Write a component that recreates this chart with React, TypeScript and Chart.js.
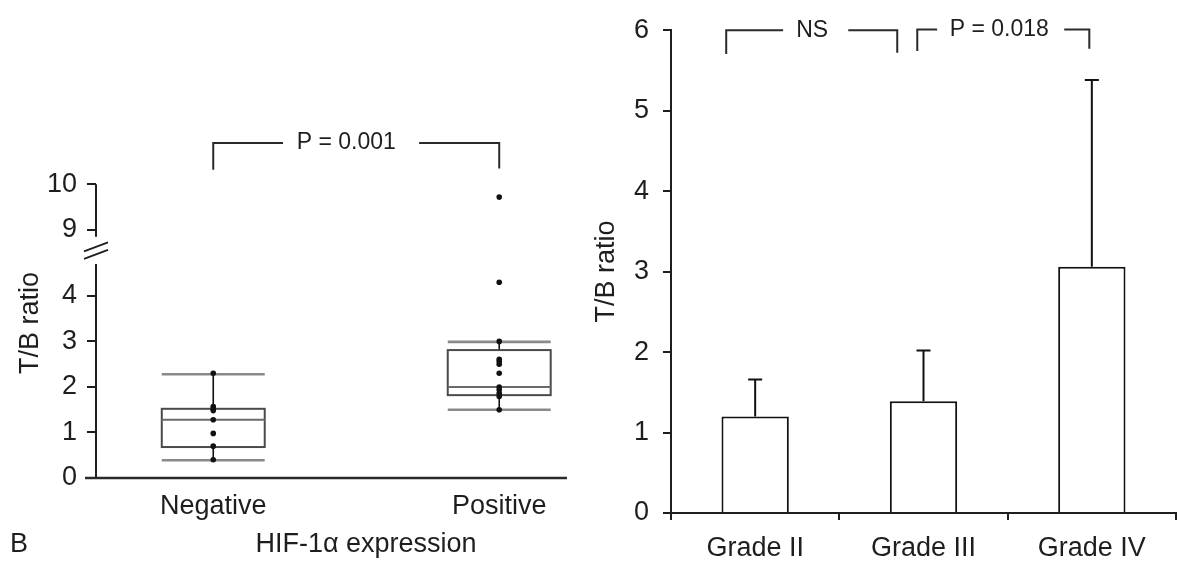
import React, { useEffect, useRef } from 'react';
import { Chart, registerables } from 'chart.js';

Chart.register(...registerables);

const FONT = '"Liberation Sans", Arial, Helvetica, sans-serif';
const INK = '#1e1e1e';

// ---------- Left panel: box plot (HIF-1α expression) ----------
const hifCategories = ['Negative', 'Positive'];
// [lower whisker, Q1, median, Q3, upper whisker]
const negativeBox = [0.39, 0.68, 1.28, 1.52, 2.28];
const positiveBox = [1.5, 1.82, 2.0, 2.81, 2.99];
const negativePoints = [2.3, 1.57, 1.52, 1.48, 1.28, 0.98, 0.7, 0.4];
const positivePoints = [9.72, 4.3, 3.0, 2.61, 2.56, 2.5, 2.3, 2.0, 1.94, 1.86, 1.79, 1.5];
const leftTickValues = [0, 1, 2, 3, 4, 9, 10];
const leftPLabel = 'P = 0.001';
const leftYTitle = 'T/B ratio';
const leftXTitle = 'HIF-1α expression';
const panelLetter = 'B';

// ---------- Right panel: bar chart by grade ----------
const gradeCategories = ['Grade II', 'Grade III', 'Grade IV'];
const gradeMeans = [1.2, 1.39, 3.06];
const gradeUpper = [1.66, 2.02, 5.38];
const rightYTitle = 'T/B ratio';
const rightBracketLabels = ['NS', 'P = 0.018'];

// broken axis: values between BREAK_FROM and BREAK_TO are cut out
const BREAK_FROM = 4.7;
const BREAK_TO = 8.85;
const BREAK_GAP = 0.6;
const toDisplay = (v: number) =>
  v <= BREAK_FROM ? v : v - (BREAK_TO - BREAK_FROM - BREAK_GAP);

// bracket geometry (annotation layout)
const leftBracket = { from: 1, to: 2, top: 7.36, leftFoot: 6.77, rightFoot: 6.8, gapFrom: 1.244, gapTo: 1.72, textAt: 1.465 };
const rightBrackets = [
  { from: -0.172, to: 0.844, top: 6.0, leftFoot: 5.705, rightFoot: 5.72, gapFrom: 0.166, gapTo: 0.553, textAt: 0.339 },
  { from: 0.963, to: 1.985, top: 6.01, leftFoot: 5.74, rightFoot: 5.77, gapFrom: 1.081, gapTo: 1.836, textAt: 1.45 },
];

const font = (size: number) => ({ family: FONT, size });

function drawBracket(ctx: CanvasRenderingContext2D, xs: (v: number) => number, ys: (v: number) => number, b: any, label: string) {
  const xl = xs(b.from), xr = xs(b.to), yt = ys(b.top);
  ctx.save();
  ctx.strokeStyle = '#2a2a2a';
  ctx.lineWidth = 2;
  ctx.beginPath();
  ctx.moveTo(xl, ys(b.leftFoot));
  ctx.lineTo(xl, yt);
  ctx.lineTo(xs(b.gapFrom), yt);
  ctx.moveTo(xs(b.gapTo), yt);
  ctx.lineTo(xr, yt);
  ctx.lineTo(xr, ys(b.rightFoot));
  ctx.stroke();
  ctx.fillStyle = INK;
  ctx.font = `23px ${FONT}`;
  ctx.textAlign = 'center';
  ctx.textBaseline = 'middle';
  ctx.fillText(label, xs(b.textAt), yt);
  ctx.restore();
}

const leftDecor = {
  id: 'leftDecor',
  beforeDatasetsDraw(chart: any) {
    const { ctx, chartArea } = chart;
    const xs = (v: number) => chart.scales.x.getPixelForValue(v);
    const ys = (v: number) => chart.scales.y.getPixelForValue(v);
    const ax = chartArea.left;
    ctx.save();
    // broken y axis
    ctx.strokeStyle = INK;
    ctx.lineWidth = 2;
    ctx.beginPath();
    ctx.moveTo(ax, ys(0));
    ctx.lineTo(ax, ys(toDisplay(BREAK_FROM)));
    ctx.moveTo(ax, ys(toDisplay(BREAK_TO)));
    ctx.lineTo(ax, ys(toDisplay(10)));
    ctx.stroke();
    // break marks
    const yc = ys((toDisplay(BREAK_FROM) + toDisplay(BREAK_TO)) / 2);
    ctx.lineWidth = 1.8;
    ctx.beginPath();
    for (const c of [yc - 3.5, yc + 4]) {
      ctx.moveTo(ax - 12, c + 4.5);
      ctx.lineTo(ax + 12, c - 4.5);
    }
    ctx.stroke();
    // x axis line
    ctx.lineWidth = 2.6;
    ctx.strokeStyle = '#2a2a2a';
    ctx.beginPath();
    ctx.moveTo(ax - 11, chartArea.bottom);
    ctx.lineTo(chartArea.right, chartArea.bottom);
    ctx.stroke();
    // boxes
    const boxes = [negativeBox, positiveBox];
    const half = 0.18;
    boxes.forEach((s, i) => {
      const xc = xs(i + 1), x0 = xs(i + 1 - half), x1 = xs(i + 1 + half);
      const [lo, q1, med, q3, hi] = s.map((v) => ys(toDisplay(v)));
      ctx.strokeStyle = '#111';
      ctx.lineWidth = 1.6;
      ctx.beginPath();
      ctx.moveTo(xc, hi); ctx.lineTo(xc, q3);
      ctx.moveTo(xc, q1); ctx.lineTo(xc, lo);
      ctx.stroke();
      ctx.strokeStyle = '#8a8a8a';
      ctx.lineWidth = 2.6;
      ctx.beginPath();
      ctx.moveTo(x0, lo); ctx.lineTo(x1, lo);
      ctx.moveTo(x0, hi); ctx.lineTo(x1, hi);
      ctx.stroke();
      ctx.strokeStyle = '#4a4a4a';
      ctx.lineWidth = 2;
      ctx.strokeRect(x0, q3, x1 - x0, q1 - q3);
      ctx.strokeStyle = '#6a6a6a';
      ctx.beginPath();
      ctx.moveTo(x0, med); ctx.lineTo(x1, med);
      ctx.stroke();
    });
    ctx.restore();
  },
  afterDraw(chart: any) {
    const { ctx } = chart;
    const xs = (v: number) => chart.scales.x.getPixelForValue(v);
    const ys = (v: number) => chart.scales.y.getPixelForValue(v);
    drawBracket(ctx, xs, ys, leftBracket, leftPLabel);
    ctx.save();
    ctx.fillStyle = INK;
    ctx.font = `27px ${FONT}`;
    ctx.textBaseline = 'middle';
    ctx.textAlign = 'left';
    ctx.fillText(panelLetter, 10, 545);
    ctx.textAlign = 'center';
    ctx.fillText(leftXTitle, 366, 545);
    ctx.translate(31, 323);
    ctx.rotate(-Math.PI / 2);
    ctx.fillText(leftYTitle, 0, 0);
    ctx.restore();
  },
};

const errorBars = {
  id: 'errorBars',
  afterDatasetsDraw(chart: any) {
    const { ctx } = chart;
    const meta = chart.getDatasetMeta(0);
    const ys = (v: number) => chart.scales.y.getPixelForValue(v);
    ctx.save();
    ctx.strokeStyle = '#111';
    ctx.lineWidth = 2;
    meta.data.forEach((bar: any, i: number) => {
      const x = bar.x;
      const yTop = ys(gradeUpper[i]);
      ctx.beginPath();
      ctx.moveTo(x, ys(gradeMeans[i]));
      ctx.lineTo(x, yTop);
      ctx.moveTo(x - 7, yTop);
      ctx.lineTo(x + 7, yTop);
      ctx.stroke();
    });
    ctx.restore();
  },
  afterDraw(chart: any) {
    const xs = (v: number) => chart.scales.x.getPixelForValue(v);
    const ys = (v: number) => chart.scales.y.getPixelForValue(v);
    rightBrackets.forEach((b, i) => drawBracket(chart.ctx, xs, ys, b, rightBracketLabels[i]));
  },
};

export default function App() {
  const leftRef = useRef<HTMLCanvasElement>(null);
  const rightRef = useRef<HTMLCanvasElement>(null);

  useEffect(() => {
    const left = new Chart(leftRef.current as HTMLCanvasElement, {
      type: 'scatter',
      data: {
        datasets: [
          { data: negativePoints.map((v) => ({ x: 1, y: toDisplay(v) })), pointRadius: 2.8, pointBackgroundColor: '#111', pointBorderWidth: 0 },
          { data: positivePoints.map((v) => ({ x: 2, y: toDisplay(v) })), pointRadius: 2.8, pointBackgroundColor: '#111', pointBorderWidth: 0 },
        ],
      },
      options: {
        responsive: false,
        animation: false,
        layout: { padding: { left: 0, top: 132, right: 23, bottom: 0 } },
        plugins: { legend: { display: false }, tooltip: { enabled: false } },
        scales: {
          x: {
            type: 'linear',
            min: 0.59,
            max: 2.237,
            afterBuildTicks: (s: any) => { s.ticks = hifCategories.map((_, i) => ({ value: i + 1 })); },
            afterFit: (s: any) => { s.height = 84; },
            ticks: { autoSkip: false, color: INK, font: font(27), padding: 4, callback: (v: any) => hifCategories[Math.round(v) - 1] },
            grid: { display: false },
            border: { display: false },
          },
          y: {
            min: 0,
            max: 7.6,
            afterBuildTicks: (s: any) => { s.ticks = leftTickValues.map((v) => ({ value: toDisplay(v) })); },
            afterFit: (s: any) => { s.width = 96; },
            ticks: { autoSkip: false, color: INK, font: font(27), padding: 10, callback: (_v: any, i: number) => String(leftTickValues[i]) },
            grid: { drawOnChartArea: false, drawTicks: true, tickLength: 9, color: INK, lineWidth: 2 },
            border: { display: false },
          },
        },
      },
      plugins: [leftDecor],
    } as any);

    const right = new Chart(rightRef.current as HTMLCanvasElement, {
      type: 'bar',
      data: {
        labels: gradeCategories,
        datasets: [
          { data: gradeMeans, backgroundColor: '#ffffff', borderColor: '#111', borderWidth: 2, barPercentage: 0.4, categoryPercentage: 1.0 },
        ],
      },
      options: {
        responsive: false,
        animation: false,
        layout: { padding: { left: 0, top: 24, right: 2, bottom: 0 } },
        plugins: { legend: { display: false }, tooltip: { enabled: false } },
        scales: {
          x: {
            afterFit: (s: any) => { s.height = 49; },
            ticks: { color: INK, font: font(27), padding: 12 },
            grid: { offset: true, drawOnChartArea: false, drawTicks: true, tickLength: 7, color: INK, lineWidth: 2 },
            border: { display: true, color: INK, width: 2 },
          },
          y: {
            min: 0,
            max: 6,
            afterFit: (s: any) => { s.width = 81; },
            ticks: { stepSize: 1, color: INK, font: font(27), padding: 14 },
            grid: { drawOnChartArea: false, drawTicks: true, tickLength: 8, color: INK, lineWidth: 2 },
            border: { display: true, color: INK, width: 2 },
            title: { display: true, text: rightYTitle, color: INK, font: font(27), padding: { top: 0, bottom: 0 } },
          },
        },
      },
      plugins: [errorBars],
    } as any);

    return () => {
      left.destroy();
      right.destroy();
    };
  }, []);

  return (
    <div style={{ position: 'absolute', left: 0, top: 0, width: 1178, height: 562, background: '#fff', overflow: 'hidden' }}>
      <canvas ref={leftRef} width={590} height={562} style={{ position: 'absolute', left: 0, top: 0, width: 590, height: 562 }} />
      <canvas ref={rightRef} width={588} height={562} style={{ position: 'absolute', left: 590, top: 0, width: 588, height: 562 }} />
    </div>
  );
}
